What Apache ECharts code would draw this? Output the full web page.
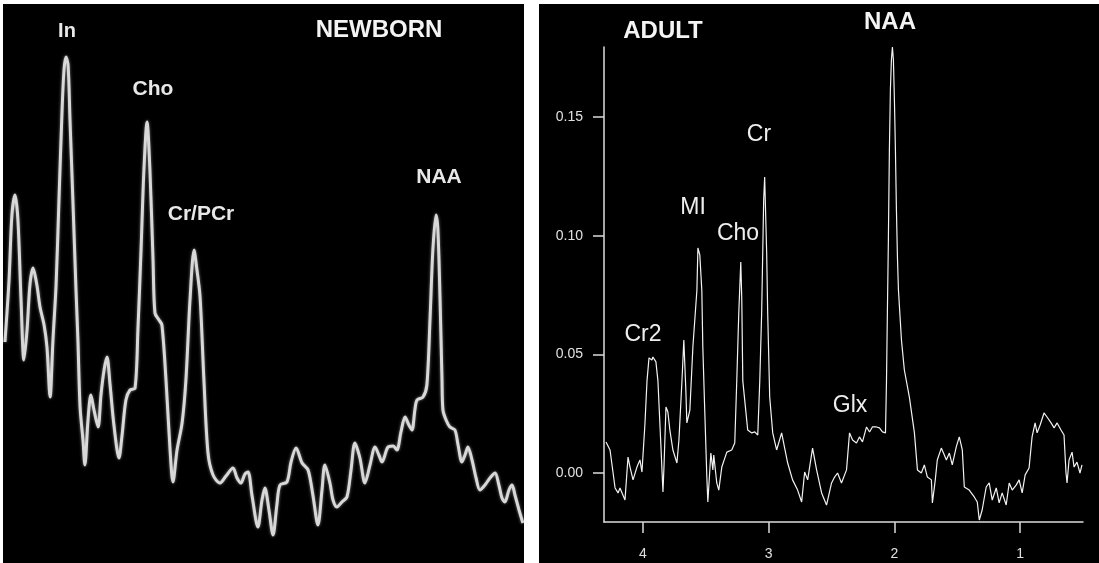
<!DOCTYPE html>
<html>
<head>
<meta charset="utf-8">
<script src="https://cdn.jsdelivr.net/npm/echarts@6/dist/echarts.min.js"></script>
<style>html,body{margin:0;padding:0;background:#fff}#c{width:1099px;height:563px}</style>
</head>
<body>
<div id="c"></div>
<script>
// NEWBORN spectrum: [ppm, amplitude (a.u.)]
const newbornSpectrum = [
[3.796,44.2],[3.779,56.6],[3.767,69.6],[3.754,73.6],[3.742,68.6],[3.729,52.6],[3.717,40.6],[3.704,46.6],
[3.692,55.6],[3.679,59.0],[3.663,55.6],[3.650,51.2],[3.633,47.6],[3.621,43.2],[3.608,33.2],[3.596,44.6],
[3.583,55.6],[3.571,72.6],[3.558,90.6],[3.550,98.6],[3.542,101.2],[3.533,99.6],[3.525,88.6],[3.513,72.6],
[3.500,54.6],[3.492,44.6],[3.483,31.2],[3.471,24.6],[3.463,19.6],[3.450,28.6],[3.438,33.6],[3.425,30.6],
[3.408,27.2],[3.396,33.6],[3.383,38.6],[3.371,41.2],[3.358,35.6],[3.342,27.6],[3.321,21.0],[3.308,25.6],
[3.292,32.6],[3.275,34.6],[3.254,35.0],[3.242,46.6],[3.229,62.6],[3.217,78.6],[3.204,88.2],[3.192,78.6],
[3.179,60.6],[3.171,50.0],[3.154,48.6],[3.142,47.6],[3.125,36.6],[3.108,22.6],[3.096,16.2],[3.079,22.6],
[3.058,28.0],[3.042,36.6],[3.025,52.6],[3.008,62.6],[2.996,58.6],[2.983,53.2],[2.967,36.6],[2.950,22.0],
[2.929,17.6],[2.900,16.0],[2.875,17.4],[2.846,19.0],[2.829,17.0],[2.813,16.0],[2.796,17.8],[2.783,18.2],
[2.767,13.6],[2.742,7.2],[2.725,12.6],[2.713,15.0],[2.696,10.6],[2.679,5.6],[2.663,11.6],[2.650,15.6],
[2.621,16.2],[2.604,20.2],[2.583,23.0],[2.558,20.0],[2.533,18.6],[2.513,13.6],[2.492,7.6],[2.475,14.6],
[2.463,19.6],[2.442,16.0],[2.429,12.6],[2.413,11.2],[2.392,12.2],[2.371,13.2],[2.354,18.6],[2.338,24.0],
[2.317,21.0],[2.296,16.0],[2.275,19.6],[2.254,23.2],[2.238,21.6],[2.225,20.2],[2.200,23.2],[2.179,23.4],
[2.163,22.6],[2.146,26.2],[2.129,29.2],[2.113,27.6],[2.100,26.6],[2.088,30.6],[2.079,32.6],[2.054,33.2],
[2.038,35.6],[2.025,48.6],[2.013,62.6],[2.000,69.6],[1.992,66.6],[1.983,52.6],[1.975,36.6],[1.971,30.6],
[1.958,28.6],[1.942,27.2],[1.921,26.6],[1.908,23.6],[1.892,20.2],[1.879,21.6],[1.867,23.2],[1.850,20.6],
[1.833,17.0],[1.817,14.6],[1.796,15.6],[1.775,17.0],[1.754,18.0],[1.738,15.6],[1.725,13.0],[1.713,12.2],
[1.696,14.6],[1.683,15.6],[1.671,13.6],[1.654,10.6],[1.638,8.0]
];

// ADULT spectrum: [ppm, signal]
const adultSpectrum = [
[4.294,0.0131],[4.262,0.0097],[4.222,-0.0063],[4.198,-0.0084],[4.183,-0.0063],[4.143,-0.0114],[4.119,0.0067],
[4.103,0.0025],[4.079,-0.0029],[4.048,0.0025],[4.024,0.0055],[4.008,0.0004],[3.984,0.0211],[3.968,0.0388],
[3.952,0.0485],[3.929,0.0476],[3.921,0.0489],[3.897,0.0468],[3.881,0.0388],[3.857,0.0110],[3.841,-0.0080],
[3.833,0.0025],[3.817,0.0278],[3.802,0.0257],[3.786,0.0181],[3.762,0.0097],[3.730,0.0042],[3.714,0.0139],
[3.690,0.0388],[3.675,0.0560],[3.659,0.0350],[3.651,0.0211],[3.627,0.0265],[3.603,0.0531],[3.571,0.0771],
[3.563,0.0948],[3.548,0.0919],[3.532,0.0771],[3.524,0.0531],[3.508,0.0253],[3.492,-0.0017],[3.484,-0.0122],
[3.460,0.0084],[3.444,0.0013],[3.437,0.0076],[3.413,-0.0042],[3.397,-0.0072],[3.373,0.0025],[3.333,0.0088],
[3.294,0.0097],[3.270,0.0126],[3.254,0.0388],[3.238,0.0674],[3.222,0.0889],[3.214,0.0729],[3.206,0.0388],
[3.167,0.0181],[3.135,0.0169],[3.111,0.0173],[3.087,0.0160],[3.071,0.0388],[3.056,0.0674],[3.040,0.1150],
[3.032,0.1247],[3.016,0.0927],[3.008,0.0674],[2.992,0.0320],[2.968,0.0169],[2.937,0.0097],[2.897,0.0169],
[2.873,0.0105],[2.849,0.0042],[2.810,-0.0029],[2.770,-0.0072],[2.738,-0.0122],[2.714,0.0004],[2.690,-0.0029],
[2.651,0.0105],[2.619,0.0013],[2.579,-0.0084],[2.540,-0.0135],[2.500,-0.0042],[2.476,-0.0017],[2.452,0.0],
[2.421,-0.0042],[2.381,0.0013],[2.357,0.0169],[2.333,0.0139],[2.302,0.0126],[2.278,0.0152],[2.254,0.0131],
[2.222,0.0194],[2.198,0.0173],[2.175,0.0194],[2.143,0.0194],[2.119,0.0190],[2.095,0.0173],[2.071,0.0169],
[2.063,0.0388],[2.056,0.0674],[2.048,0.0982],[2.040,0.1361],[2.032,0.1614],[2.024,0.1740],[2.016,0.1795],
[2.008,0.1740],[2.000,0.1572],[1.992,0.1361],[1.984,0.1108],[1.976,0.0910],[1.968,0.0771],[1.944,0.0560],
[1.921,0.0434],[1.881,0.0320],[1.841,0.0169],[1.817,0.0013],[1.786,0.0],[1.762,0.0034],[1.738,-0.0017],
[1.706,-0.0029],[1.698,-0.0126],[1.675,-0.0029],[1.659,0.0055],[1.627,0.0105],[1.603,0.0076],[1.587,0.0055],
[1.563,0.0084],[1.540,0.0034],[1.508,0.0110],[1.484,0.0152],[1.460,0.0097],[1.444,-0.0059],[1.405,-0.0072],
[1.365,-0.0101],[1.341,-0.0122],[1.325,-0.0198],[1.302,-0.0156],[1.270,-0.0059],[1.246,-0.0042],[1.222,-0.0114],
[1.190,-0.0063],[1.167,-0.0126],[1.143,-0.0084],[1.111,-0.0135],[1.087,-0.0042],[1.063,-0.0072],[1.032,-0.0051],
[1.008,-0.0029],[0.984,-0.0084],[0.960,-0.0008],[0.929,0.0021],[0.905,0.0152],[0.881,0.0211],[0.865,0.0169],
[0.841,0.0202],[0.810,0.0253],[0.786,0.0236],[0.754,0.0211],[0.730,0.0190],[0.706,0.0211],[0.675,0.0181],
[0.651,0.0160],[0.635,0.0],[0.627,-0.0042],[0.611,0.0055],[0.587,0.0088],[0.571,0.0025],[0.548,0.0046],
[0.524,0.0],[0.508,0.0034]
];

const adultYTicks = [0, 0.05, 0.10, 0.15];
const adultXTicks = [4, 3, 2, 1];
const newbornTitle = 'NEWBORN';
const adultTitle = 'ADULT';
const newbornPeakLabels = ['In', 'Cho', 'Cr/PCr', 'NAA'];
const adultPeakLabels = ['NAA', 'Cr', 'MI', 'Cho', 'Cr2', 'Glx'];

const FONT = '"Liberation Sans", Arial, sans-serif';
function txt(t, x, y, size, bold, fill) {
  return {type: 'text', x: x, y: y, z: 10,
    style: {text: t, fill: fill, font: (bold ? 'bold ' : '') + size + 'px ' + FONT,
      textAlign: 'center', textVerticalAlign: 'middle'}};
}

const chart = echarts.init(document.getElementById('c'));
chart.setOption({
  animation: false,
  backgroundColor: '#ffffff',
  graphic: [
    {type: 'rect', shape: {x: 3, y: 4, width: 521, height: 559}, style: {fill: '#000'}, z: -10},
    {type: 'rect', shape: {x: 539, y: 4, width: 560, height: 559}, style: {fill: '#000'}, z: -10},
    txt(newbornTitle, 379, 30, 24, true, '#f4f4f4'),
    txt(newbornPeakLabels[0], 67, 31, 20, true, '#e8e8e8'),
    txt(newbornPeakLabels[1], 153, 89, 21, true, '#e8e8e8'),
    txt(newbornPeakLabels[2], 201, 214, 21, true, '#e8e8e8'),
    txt(newbornPeakLabels[3], 439, 177, 21, true, '#e8e8e8'),
    txt(adultTitle, 663, 31, 24, true, '#f4f4f4'),
    txt(adultPeakLabels[0], 890, 22, 24, true, '#f4f4f4'),
    txt(adultPeakLabels[1], 759, 135, 23, false, '#eeeeee'),
    txt(adultPeakLabels[2], 693, 208, 23, false, '#eeeeee'),
    txt(adultPeakLabels[3], 738, 234, 23, false, '#eeeeee'),
    txt(adultPeakLabels[4], 643, 335, 23, false, '#eeeeee'),
    txt(adultPeakLabels[5], 850, 406, 23, false, '#eeeeee')
  ],
  grid: [
    {left: 4, top: 4, width: 520, bottom: 0, show: false},
    {left: 604, top: 47, right: 16, bottom: 41, show: false}
  ],
  xAxis: [
    {type: 'value', gridIndex: 0, inverse: true, min: 1.6333, max: 3.8, show: false},
    {type: 'value', gridIndex: 1, inverse: true, min: 0.5, max: 4.31,
      axisLine: {show: true, onZero: false, lineStyle: {color: '#dcdcdc', width: 1.5}},
      axisTick: {show: true, length: 11, customValues: adultXTicks, lineStyle: {color: '#dcdcdc', width: 1.5}},
      axisLabel: {customValues: adultXTicks, color: '#e0e0e0', fontSize: 14, fontFamily: FONT, margin: 25},
      splitLine: {show: false}}
  ],
  yAxis: [
    {type: 'value', gridIndex: 0, min: 0, max: 111.8, show: false},
    {type: 'value', gridIndex: 1, min: -0.02065, max: 0.1795,
      axisLine: {show: true, onZero: false, lineStyle: {color: '#dcdcdc', width: 1.5}},
      axisTick: {show: true, length: 11, customValues: adultYTicks, lineStyle: {color: '#dcdcdc', width: 1.5}},
      axisLabel: {customValues: adultYTicks, color: '#e0e0e0', fontSize: 14, fontFamily: FONT, margin: 21,
        formatter: v => v.toFixed(2)},
      splitLine: {show: false}}
  ],
  series: [
    {type: 'line', xAxisIndex: 0, yAxisIndex: 0, data: newbornSpectrum, showSymbol: false, smooth: 0.3,
      lineStyle: {color: '#d8d8d8', width: 3, shadowBlur: 3, shadowColor: 'rgba(255,255,255,0.5)'}},
    {type: 'line', xAxisIndex: 1, yAxisIndex: 1, data: adultSpectrum, showSymbol: false,
      lineStyle: {color: '#f2f2f2', width: 1.2}}
  ]
});
</script>
</body>
</html>
